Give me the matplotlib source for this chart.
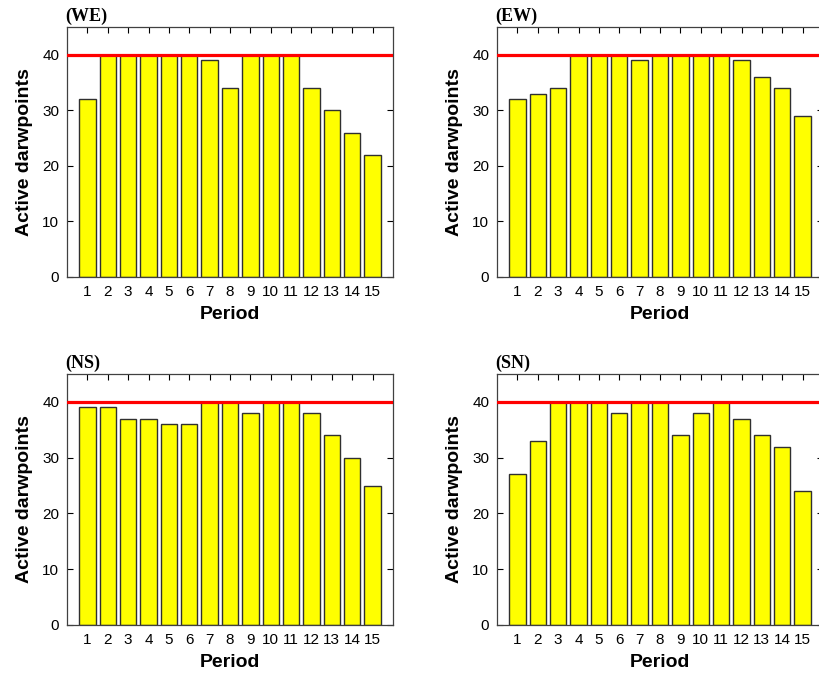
import matplotlib
matplotlib.use("Agg")
import matplotlib.pyplot as plt
import numpy as np

periods = list(range(1, 16))
titles = ["(WE)", "(EW)", "(NS)", "(SN)"]
we = [32, 40, 40, 40, 40, 40, 39, 34, 40, 40, 40, 34, 30, 26, 22]
ew = [32, 33, 34, 40, 40, 40, 39, 40, 40, 40, 40, 39, 36, 34, 29]
ns = [39, 39, 37, 37, 36, 36, 40, 40, 38, 40, 40, 38, 34, 30, 25]
sn = [27, 33, 40, 40, 40, 38, 40, 40, 34, 38, 40, 37, 34, 32, 24]
series = [we, ew, ns, sn]
max_points = 40
yticks = [0, 10, 20, 30, 40]

plt.rcParams['font.family'] = ['Liberation Sans', 'DejaVu Sans']

W, H = 819, 674
fig = plt.figure(figsize=(W / 100, H / 100), dpi=100)

# pixel boxes: left, top, width, height
boxes = [(67, 27, 326, 250), (497, 27, 326, 250),
         (67, 374, 326, 251), (497, 374, 326, 251)]

for (l, t, w, h), title, vals in zip(boxes, titles, series):
    ax = fig.add_axes([l / W, 1 - (t + h) / H, w / W, h / H])
    ax.bar(periods, vals, width=0.8, color='#FFFF00', edgecolor='#303030',
           linewidth=1.0, zorder=2)
    ax.axhline(max_points, color='#FF0000', linewidth=2.3, zorder=3)
    ax.set_xlim(0, 16)
    ax.set_ylim(0, 45)
    ax.set_xticks(periods)
    ax.set_yticks(yticks)
    ax.tick_params(direction='in', top=True, right=True, length=4,
                   width=0.8, labelsize=11, pad=5.5, colors='black')
    for sp in ax.spines.values():
        sp.set_color('#404040')
        sp.set_linewidth(0.9)
    ax.set_ylabel('Active darwpoints', fontsize=14, fontweight='bold')
    ax.yaxis.set_label_coords(-0.105, 0.5)
    ax.set_xlabel('Period', fontsize=14, fontweight='bold')
    ax.xaxis.set_label_coords(0.5, -0.115)
    ax.text(-0.005, 1.026, title, transform=ax.transAxes, ha='left',
            va='baseline', fontsize=13, fontweight='bold',
            family=['Liberation Serif', 'DejaVu Serif'])

fig.savefig('out.png', dpi=100)
